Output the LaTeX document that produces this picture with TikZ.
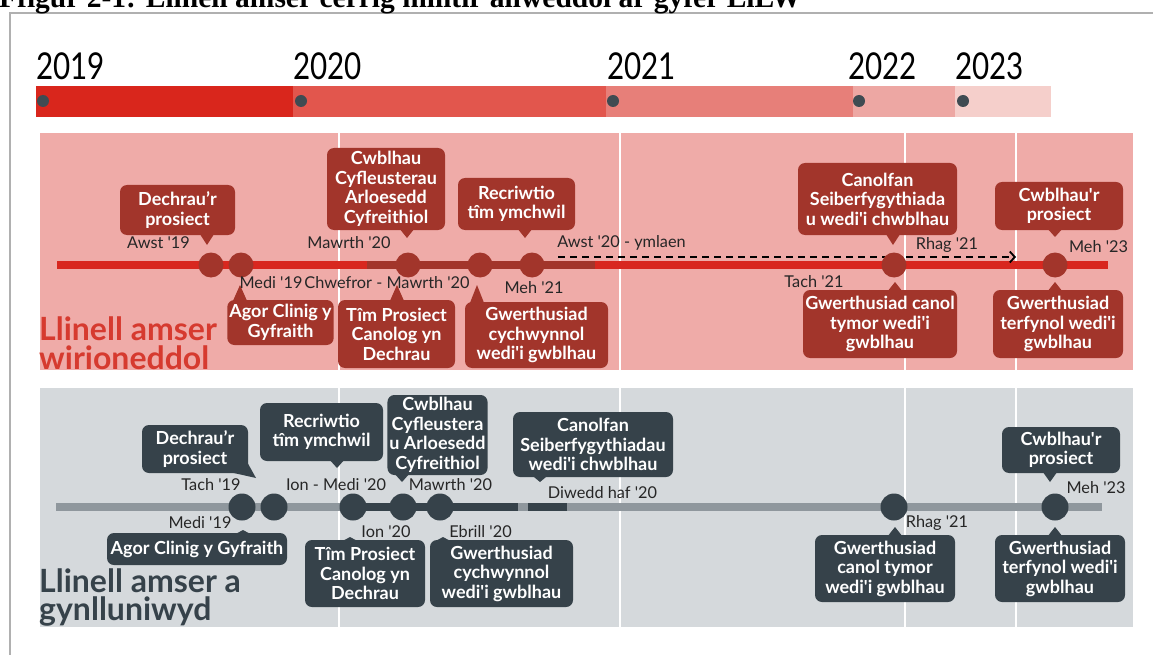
\documentclass[tikz,border=0pt]{standalone}
\usepackage{fontspec}
\setmainfont{Lato}[Ligatures=TeXOff]
\newfontfamily\titlefont{Liberation Serif}
\newfontfamily\yearfont{Lato}[FakeStretch=0.8]
\usetikzlibrary{arrows.meta,calc,positioning}

\definecolor{framegray}{HTML}{B0B0B0}
\definecolor{yr19}{HTML}{D9261C}
\definecolor{yr20}{HTML}{E2564D}
\definecolor{yr21}{HTML}{E77F79}
\definecolor{yr22}{HTML}{EDA7A3}
\definecolor{yr23}{HTML}{F5CFCB}
\definecolor{yeardotgray}{HTML}{3F4B52}
\definecolor{panelred}{HTML}{EFABA8}
\definecolor{panelgray}{HTML}{D5D9DC}
\definecolor{calred}{HTML}{A2352B}
\definecolor{calgray}{HTML}{36424A}
\definecolor{linered}{HTML}{D8271F}
\definecolor{linegray}{HTML}{8F979D}
\definecolor{tagred}{HTML}{D63A2F}

\newcommand{\calloutfont}{\bfseries\fontsize{18}{19.5}\selectfont}
\newcommand{\whenfont}{\fontsize{16.3}{18}\selectfont}
\newcommand{\pointdown}[3]{\fill[#1] ($(#2.south -| #3)+(-7,-1)$) -- (#3) -- ($(#2.south -| #3)+(7,-1)$) -- cycle;}
\newcommand{\pointup}[3]{\fill[#1] ($(#2.north -| #3)+(-7,1)$) -- (#3) -- ($(#2.north -| #3)+(7,1)$) -- cycle;}

\tikzset{
	redcall/.style={
		shape=rectangle,
		fill=calred,
		rounded corners=7pt,
		text=white,
		font=\calloutfont,
		align=center,
		inner sep=2pt
	},
	graycall/.style={redcall, fill=calgray},
	reddot/.style={
		shape=circle,
		fill=calred,
		minimum size=25pt,
		inner sep=0pt
	},
	graydot/.style={reddot, fill=calgray, minimum size=27pt},
	yeardot/.style={
		shape=circle,
		fill=yeardotgray,
		minimum size=12pt,
		inner sep=0pt
	},
	when/.style={font=\whenfont, text=black!85, inner sep=0pt},
	year/.style={font=\yearfont\fontsize{37}{37}\selectfont, anchor=base west, inner sep=0pt},
	panellabel/.style={font=\bfseries\fontsize{32}{32}\selectfont, anchor=base west, inner sep=0pt},
	milestone/.style={line width=8pt},
	sep/.style={white, line width=2.5pt}
}

\begin{document}
\begin{tikzpicture}[x=1pt, y=-1pt, >={Straight Barb[length=5pt,width=11pt]}]
	\useasboundingbox (0,0) rectangle (1153,655);
	
	% Marco y titulo
	\draw[framegray, line width=2.5pt] (10,680) -- (10,13) -- (1180,13);
	\node[anchor=base west, inner sep=0pt, font=\titlefont\bfseries\fontsize{29.5}{29.5}\selectfont] (title) at (-1,8) {Ffigur 2-1: Llinell amser cerrig milltir allweddol ar gyfer LiLW};
	
	% Barra de los anos
	\fill[yr19] (36,86) rectangle (293,117);
	\fill[yr20] (293,86) rectangle (606,117);
	\fill[yr21] (606,86) rectangle (853,117);
	\fill[yr22] (853,86) rectangle (955,117);
	\fill[yr23] (955,86) rectangle (1051,117);
	\node[yeardot] (d19) at (43,101) {};
	\node[yeardot] (d20) at (301,101) {};
	\node[yeardot] (d21) at (613,101) {};
	\node[yeardot] (d22) at (859,101) {};
	\node[yeardot] (d23) at (963,101) {};
	\node[year] (y19) at (36,80) {2019};
	\node[year] (y20) at (293,80) {2020};
	\node[year] (y21) at (607,80) {2021};
	\node[year] (y22) at (848,80) {2022};
	\node[year] (y23) at (955,80) {2023};
	
	% Paneles
	\fill[panelred] (40,133) rectangle (1133,370);
	\fill[panelgray] (40,388) rectangle (1133,627);
	\draw[sep] (339,133) -- (339,370) (620,133) -- (620,370) (905,133) -- (905,370) (1016,133) -- (1016,370);
	\draw[sep] (339,388) -- (339,627) (620,388) -- (620,627) (905,388) -- (905,627) (1016,388) -- (1016,627);
	
	% Linea real
	\coordinate (rstart) at (57,265);
	\coordinate (rend) at (1108,265);
	\draw[linered, milestone] (rstart) -- (rend);
	\draw[calred, milestone] (367,265) -- (595,265);
	\coordinate (planA) at (558,257);
	\coordinate (planB) at (1016,257);
	\draw[dash pattern=on 7pt off 5pt, line width=1.8pt, ->] (planA) -- (planB);
	
	\node[reddot] (r1) at (211,265) {};
	\node[reddot] (r2) at (241,265) {};
	\node[reddot] (r3) at (408,265) {};
	\node[reddot] (r4) at (480,265) {};
	\node[reddot] (r5) at (532,265) {};
	\node[reddot] (r6) at (894,265) {};
	\node[reddot] (r7) at (1055,265) {};
	
	\node[redcall, minimum width=115pt, minimum height=50pt] (rb1) at (177.5,210) {Dechrau’r\\prosiect};
	\node[redcall, minimum width=105pt, minimum height=45pt] (rb2) at (280.5,322.5) {Agor Clinig y\\Gyfraith};
	\node[redcall, minimum width=118pt, minimum height=82pt] (rb3) at (386,189) {Cwblhau\\Cyfleusterau\\Arloesedd\\Cyfreithiol};
	\node[redcall, minimum width=117pt, minimum height=68pt] (rb4) at (396.5,334) {Tîm Prosiect\\Canolog yn\\Dechrau};
	\node[redcall, minimum width=117pt, minimum height=52pt] (rb5) at (516.5,204) {Recriwtio\\tîm ymchwil};
	\node[redcall, minimum width=143pt, minimum height=66pt] (rb6) at (536.5,335) {Gwerthusiad\\cychwynnol\\wedi'i gwblhau};
	\node[redcall, minimum width=159pt, minimum height=72pt] (rb7) at (877.5,199) {Canolfan\\Seiberfygythiada\\u wedi'i chwblhau};
	\node[redcall, minimum width=154pt, minimum height=68pt] (rb8) at (880,324) {Gwerthusiad canol\\tymor wedi'i\\gwblhau};
	\node[redcall, minimum width=128pt, minimum height=48pt] (rb9) at (1059,206) {Cwblhau'r\\prosiect};
	\node[redcall, minimum width=130pt, minimum height=68pt] (rb10) at (1058,324) {Gwerthusiad\\terfynol wedi'i\\gwblhau};
	
	\coordinate (rt1) at (207,245);
	\coordinate (rt2) at (240,285);
	\coordinate (rt3) at (407,238);
	\coordinate (rt4) at (397,285);
	\coordinate (rt5) at (525,238);
	\coordinate (rt6) at (477,285);
	\coordinate (rt7) at (893,245);
	\coordinate (rt8) at (895,282);
	\coordinate (rt9) at (1055,237);
	\coordinate (rt10) at (1055,282);
	\pointdown{calred}{rb1}{rt1}
	\pointup{calred}{rb2}{rt2}
	\pointdown{calred}{rb3}{rt3}
	\pointup{calred}{rb4}{rt4}
	\pointdown{calred}{rb5}{rt5}
	\pointup{calred}{rb6}{rt6}
	\pointdown{calred}{rb7}{rt7}
	\pointup{calred}{rb8}{rt8}
	\pointdown{calred}{rb9}{rt9}
	\pointup{calred}{rb10}{rt10}
	
	\node[when] (rw1) at (158.5,243) {Awst '19};
	\node[when] (rw2) at (349,243) {Mawrth '20};
	\node[when] (rw3) at (271,283) {Medi '19};
	\node[when] (rw4) at (387,283) {Chwefror - Mawrth '20};
	\node[when] (rw5) at (534,288) {Meh '21};
	\node[when] (rw6) at (621.5,243) {Awst '20 - ymlaen};
	\node[when] (rw7) at (814,282) {Tach '21};
	\node[when] (rw8) at (947,245) {Rhag '21};
	\node[when] (rw9) at (1098.5,247) {Meh '23};
	
	\node[panellabel, text=tagred] (redtag) at (39,340) {Llinell amser};
	\node[panellabel, text=tagred] (redtag2) at (39,369) {wirioneddol};
	
	% Linea planeada
	\coordinate (gstart) at (56,507);
	\coordinate (gend) at (1102,507);
	\draw[linegray, milestone] (gstart) -- (gend);
	\draw[calgray, milestone] (353,507) -- (518,507) (528,507) -- (567,507);
	
	\node[graydot] (g1) at (242,507) {};
	\node[graydot] (g2) at (274,507) {};
	\node[graydot] (g3) at (353,507) {};
	\node[graydot] (g4) at (403,507) {};
	\node[graydot] (g5) at (440,507) {};
	\node[graydot] (g6) at (894,507) {};
	\node[graydot] (g7) at (1055,507) {};
	
	\node[graycall, minimum width=106pt, minimum height=48pt] (gb1) at (195,449) {Dechrau’r\\prosiect};
	\node[graycall, minimum width=123pt, minimum height=58pt] (gb2) at (321.5,432) {Recriwtio\\tîm ymchwil};
	\node[graycall, minimum width=99pt, minimum height=80pt] (gb3) at (437.5,435) {Cwblhau\\Cyfleustera\\u Arloesedd\\Cyfreithiol};
	\node[graycall, minimum width=160pt, minimum height=65pt] (gb4) at (593,444.5) {Canolfan\\Seiberfygythiadau\\wedi'i chwblhau};
	\node[graycall, minimum width=180pt, minimum height=32pt] (gb5) at (197,549) {Agor Clinig y Gyfraith};
	\node[graycall, minimum width=120pt, minimum height=67pt] (gb6) at (365,573.5) {Tîm Prosiect\\Canolog yn\\Dechrau};
	\node[graycall, minimum width=143pt, minimum height=67pt] (gb7) at (501.5,573.5) {Gwerthusiad\\cychwynnol\\wedi'i gwblhau};
	\node[graycall, minimum width=140pt, minimum height=67pt] (gb8) at (885,568.5) {Gwerthusiad\\canol tymor\\wedi'i gwblhau};
	\node[graycall, minimum width=118pt, minimum height=46pt] (gb9) at (1061,450) {Cwblhau'r\\prosiect};
	\node[graycall, minimum width=130pt, minimum height=67pt] (gb10) at (1060,568.5) {Gwerthusiad\\terfynol wedi'i\\gwblhau};
	
	\coordinate (gt1) at (256,478);
	\coordinate (gt2) at (337,468);
	\coordinate (gt3) at (402,482);
	\coordinate (gt4) at (540,482);
	\coordinate (gt5) at (243,530);
	\coordinate (gt6) at (350,537);
	\coordinate (gt7) at (443,537);
	\coordinate (gt8) at (895,527);
	\coordinate (gt9) at (1050,482);
	\coordinate (gt10) at (1055,527);
	\fill[calgray] ($(gb1.south east)+(-18,-1)$) -- (gt1) -- ($(gb1.south east)+(-1,-11)$) -- cycle;
	\pointdown{calgray}{gb2}{gt2}
	\pointdown{calgray}{gb3}{gt3}
	\pointdown{calgray}{gb4}{gt4}
	\pointup{calgray}{gb5}{gt5}
	\pointup{calgray}{gb6}{gt6}
	\pointup{calgray}{gb7}{gt7}
	\pointup{calgray}{gb8}{gt8}
	\pointdown{calgray}{gb9}{gt9}
	\pointup{calgray}{gb10}{gt10}
	
	\node[when] (gw1) at (211,485) {Tach '19};
	\node[when] (gw2) at (336,485) {Ion - Medi '20};
	\node[when] (gw3) at (450.5,485) {Mawrth '20};
	\node[when] (gw4) at (602.5,493) {Diwedd haf '20};
	\node[when] (gw5) at (200,523) {Medi '19};
	\node[when] (gw6) at (386,532) {Ion '20};
	\node[when] (gw7) at (480.5,532) {Ebrill '20};
	\node[when] (gw8) at (937,523) {Rhag '21};
	\node[when] (gw9) at (1096,488) {Meh '23};
	
	\node[panellabel, text=calgray] (graytag) at (39,592) {Llinell amser a};
	\node[panellabel, text=calgray] (graytag2) at (39,620) {gynlluniwyd};
	
\end{tikzpicture}
\end{document}
